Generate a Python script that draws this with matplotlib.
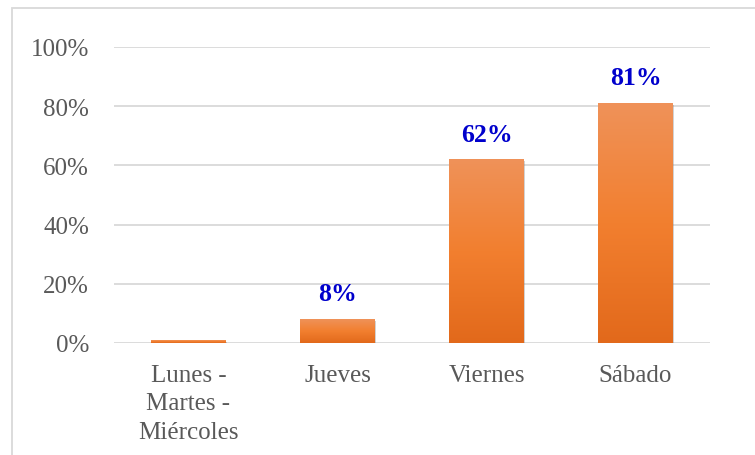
import numpy as np
import matplotlib.pyplot as plt
from matplotlib.patches import Rectangle
from matplotlib.colors import LinearSegmentedColormap
import matplotlib.patheffects as pe

plt.rcParams['font.family'] = ['Liberation Serif', 'DejaVu Serif']

# ---- DATA ----
dias = ["Lunes -\nMartes -\nMiércoles", "Jueves", "Viernes", "Sábado"]
porcentaje = [1, 8, 62, 81]
mostrar_etiqueta = [False, True, True, True]
yticks = [0, 20, 40, 60, 80, 100]

# ---- STYLE ----
grad = LinearSegmentedColormap.from_list(
    "naranja", ["#E2691B", "#F27F2F", "#EF9259"])
gris_grid = "#D9D9D9"
gris_txt = "#595959"
azul = "#0000CC"
ancho = 0.5

fig = plt.figure(figsize=(7.55, 4.56), dpi=100)
ax = fig.add_axes([114 / 755, 1 - 344 / 456, 596 / 755, 296 / 456])

# frame around the chart
fig.patches.append(Rectangle((11.5 / 755, -0.1), 1.2, 1 - 8.5 / 456 + 0.1,
                             transform=fig.transFigure, fill=False,
                             edgecolor=gris_grid, linewidth=1.3, zorder=0))

x = np.arange(len(dias))
bars = ax.bar(x, porcentaje, width=ancho, color="none", zorder=3)

g = np.linspace(0, 1, 256).reshape(-1, 1)
for b in bars:
    x0, w, h = b.get_x(), b.get_width(), b.get_height()
    # soft shadow behind each bar
    sh = Rectangle((x0, 0), w, h, facecolor="white", edgecolor="none", zorder=2)
    sh.set_path_effects([pe.SimplePatchShadow(offset=(1.2, -1.2), shadow_rgbFace="#7F7F7F", alpha=0.35)])
    ax.add_patch(sh)
    ax.imshow(g, extent=[x0, x0 + w, 0, h], origin="lower", cmap=grad,
              aspect="auto", zorder=3, interpolation="bilinear")

for xi, v, m in zip(x, porcentaje, mostrar_etiqueta):
    if m:
        ax.annotate(f"{v}%", (xi, v), xytext=(0, 10), textcoords="offset points",
                    ha="center", va="bottom", color=azul, fontsize=18.5,
                    fontweight="bold")

ax.set_xlim(-0.5, len(dias) - 0.5)
ax.set_ylim(0, 100)
ax.set_yticks(yticks)
ax.set_yticklabels([f"{t}%" for t in yticks])
ax.set_xticks(x)
ax.set_xticklabels(dias, linespacing=1.38)
ax.yaxis.grid(True, color=gris_grid, linewidth=1.3, zorder=0)
ax.set_axisbelow(True)
for s in ax.spines.values():
    s.set_visible(False)
ax.tick_params(axis="both", length=0, labelsize=18, labelcolor=gris_txt)
ax.tick_params(axis="y", pad=18)
ax.tick_params(axis="x", pad=15)

fig.savefig("out.png", dpi=100)
